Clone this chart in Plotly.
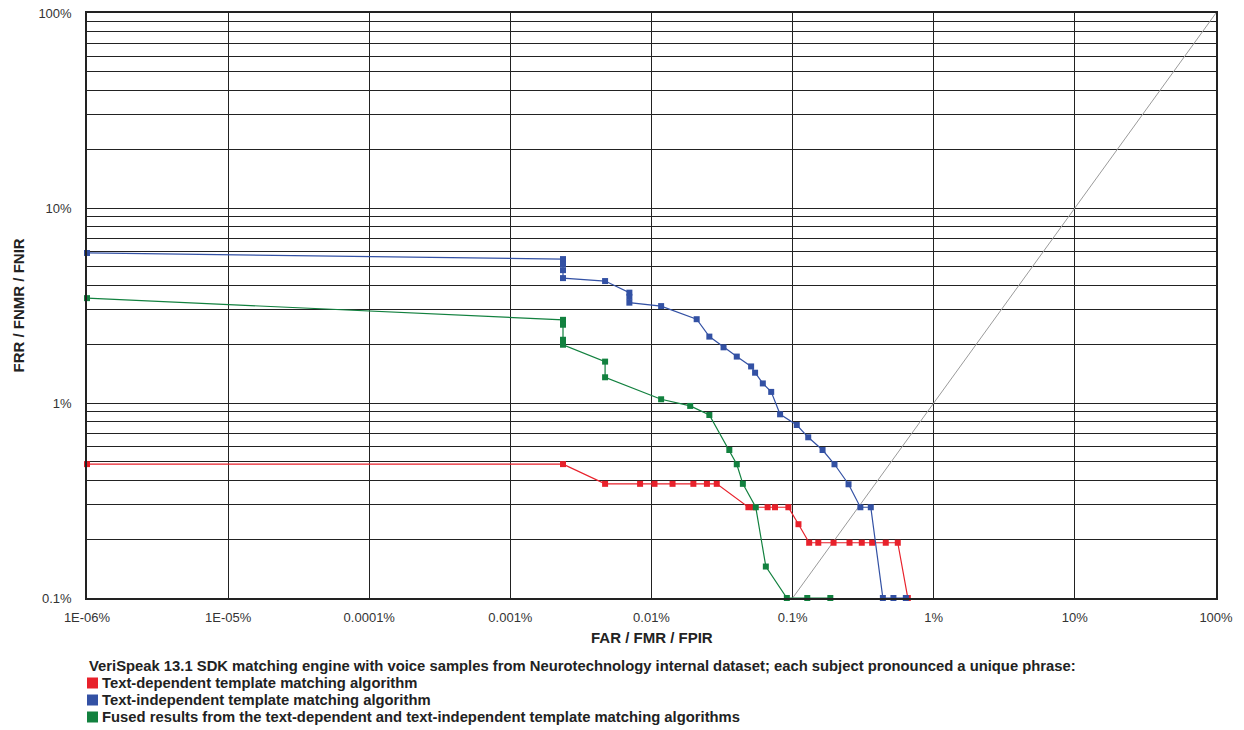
import plotly.graph_objects as go

# ---- data (values in percent) ----
red_far = [1e-6, 0.00236, 0.00469, 0.0083, 0.0105, 0.0141, 0.0198, 0.0247, 0.029,
           0.0486, 0.053, 0.0665, 0.075, 0.0933, 0.110, 0.131, 0.152, 0.195, 0.253,
           0.309, 0.366, 0.457, 0.556, 0.655]
red_frr = [0.486, 0.486, 0.385, 0.385, 0.385, 0.385, 0.385, 0.385, 0.385,
           0.292, 0.292, 0.292, 0.292, 0.292, 0.239, 0.192, 0.192, 0.192, 0.192,
           0.192, 0.192, 0.192, 0.192, 0.1]

blue_far = [1e-6, 0.00236, 0.00236, 0.00236, 0.00236, 0.00469, 0.00697, 0.00697, 0.00697,
            0.0117, 0.0209, 0.0257, 0.0324, 0.0402, 0.0508, 0.0542, 0.0615, 0.0705,
            0.0815, 0.107, 0.129, 0.163, 0.198, 0.249, 0.302, 0.358, 0.436, 0.518, 0.634]
blue_frr = [5.88, 5.47, 5.16, 4.8, 4.37, 4.22, 3.68, 3.5, 3.27,
            3.14, 2.69, 2.19, 1.93, 1.73, 1.54, 1.43, 1.26, 1.14,
            0.875, 0.771, 0.667, 0.574, 0.485, 0.383, 0.292, 0.292, 0.1, 0.1, 0.1]

green_far = [1e-6, 0.00236, 0.00236, 0.00236, 0.00236, 0.00469, 0.00469, 0.0117, 0.0188,
             0.0257, 0.0356, 0.0402, 0.0444, 0.0548, 0.0646, 0.091, 0.127, 0.185]
green_frr = [3.45, 2.67, 2.52, 2.11, 1.99, 1.63, 1.355, 1.045, 0.966,
             0.868, 0.574, 0.485, 0.385, 0.292, 0.145, 0.1, 0.1, 0.1]

eer_line = [0.1, 100]

x_tickvals = [1e-6, 1e-5, 1e-4, 1e-3, 1e-2, 1e-1, 1, 10, 100]
x_ticktext = ["1E-06%", "1E-05%", "0.0001%", "0.001%", "0.01%", "0.1%", "1%", "10%", "100%"]
y_tickvals = [0.1, 1, 10, 100]
y_ticktext = ["0.1%", "1%", "10%", "100%"]
y_minor = [m * d for d in [0.1, 1, 10] for m in range(2, 10)]

series_names = ["Text-dependent template matching algorithm",
                "Text-independent template matching algorithm",
                "Fused results from the text-dependent and text-independent template matching algorithms"]
legend_heading = ("VeriSpeak 13.1 SDK matching engine with voice samples from Neurotechnology "
                  "internal dataset; each subject pronounced a unique phrase:")

RED, BLUE, GREEN = "#e8212b", "#3351a4", "#12813f"
FONT = "Liberation Sans"

fig = go.Figure()
fig.add_trace(go.Scatter(x=eer_line, y=eer_line, mode="lines",
                         line=dict(color="#9a9a9a", width=1), showlegend=False, hoverinfo="skip"))
for fx, fy, col in [(red_far, red_frr, RED), (green_far, green_frr, GREEN), (blue_far, blue_frr, BLUE)]:
    fig.add_trace(go.Scatter(x=fx, y=fy, mode="lines+markers",
                             line=dict(color=col, width=1.2),
                             marker=dict(symbol="square", size=6, color=col),
                             showlegend=False, cliponaxis=False))

grid = "#222222"
fig.update_xaxes(type="log", range=[-6, 2], tickvals=x_tickvals, ticktext=x_ticktext,
                 showgrid=True, gridcolor=grid, gridwidth=1.3, showline=True, linecolor=grid,
                 linewidth=1.5, mirror=True, zeroline=False, ticks="", ticklabelstandoff=7,
                 automargin=False,
                 tickfont=dict(family=FONT, size=13, color="#333"))
fig.update_yaxes(type="log", range=[-1, 2], tickvals=y_tickvals, ticktext=y_ticktext,
                 showgrid=True, gridcolor=grid, gridwidth=1.3, showline=True, linecolor=grid,
                 linewidth=1.5, mirror=True, zeroline=False, ticks="", ticklabelstandoff=11,
                 automargin=False,
                 minor=dict(tickvals=y_minor, showgrid=True, gridcolor=grid, gridwidth=1.3, ticks=""),
                 tickfont=dict(family=FONT, size=13, color="#333"))

PW, PH = 1129.0, 585.0
annotations = [
    dict(x=0.5, y=(598 - 637) / PH, xref="paper", yref="paper", xanchor="center", yanchor="middle",
         text="<b>FAR / FMR / FPIR</b>", showarrow=False, font=dict(family=FONT, size=15, color="#222")),
    dict(x=(18 - 87) / PW, y=0.5, xref="paper", yref="paper", xanchor="center", yanchor="middle",
         text="<b>FRR / FNMR / FNIR</b>", textangle=-90, showarrow=False,
         font=dict(family=FONT, size=15, color="#222")),
    dict(x=0, y=(598 - 666) / PH, xref="paper", yref="paper", xanchor="left",
         yanchor="middle", text="<b>" + legend_heading + "</b>", showarrow=False,
         font=dict(family=FONT, size=14.8, color="#222")),
]
shapes = []
for i, (name, col) in enumerate(zip(series_names, [RED, BLUE, GREEN])):
    ypx = 683 + 17 * i
    yp = (598 - ypx) / PH
    annotations.append(dict(x=13 / PW, y=yp, xref="paper", yref="paper", xanchor="left",
                            yanchor="middle", text="<b>" + name + "</b>", showarrow=False,
                            font=dict(family=FONT, size=14.8, color="#222")))
    shapes.append(dict(type="rect", xref="paper", yref="paper",
                       x0=0, x1=11 / PW, y0=yp - 5.5 / PH, y1=yp + 5.5 / PH,
                       fillcolor=col, line=dict(width=0)))

fig.update_layout(width=1244, height=730, margin=dict(l=87, r=28, t=13, b=132),
                  paper_bgcolor="white", plot_bgcolor="white",
                  annotations=annotations, shapes=shapes, showlegend=False)

fig.write_html("out.html")
